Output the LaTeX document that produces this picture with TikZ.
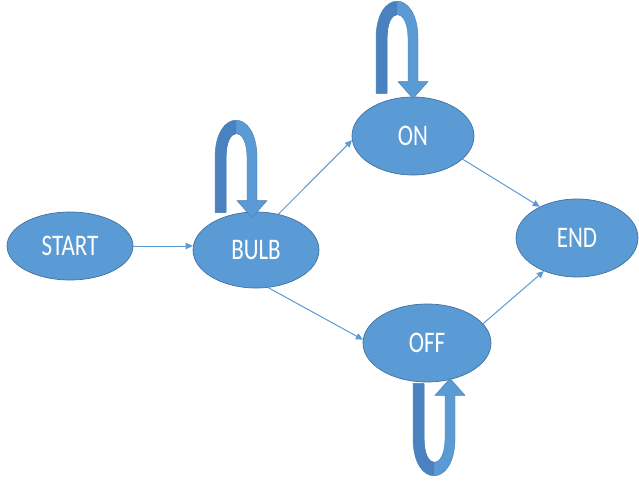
\documentclass[tikz,border=0pt]{standalone}
\usepackage{fontspec}
\setmainfont{Carlito}
\usepackage{graphicx}
\usetikzlibrary{shapes.geometric,arrows.meta,calc}

\definecolor{stfill}{HTML}{5B9BD5}
\definecolor{stline}{HTML}{41719C}
\definecolor{loopdark}{HTML}{4A82C0}
\definecolor{linkc}{HTML}{5B9BD5}

\tikzset{
  state/.style={ellipse, fill=stfill, draw=stline, line width=0.7pt,
    inner sep=0pt, text=white,
    font=\fontsize{23}{23}\selectfont},
  link/.style={draw=linkc, line width=1pt,
    -{Triangle[length=7pt,width=6.5pt]}},
  % thick U-turn arrow, tip at the pic origin, loop rising above it
  selfloop/.pic={
    \fill[stfill, draw=stline!70!stfill, line width=0.4pt]
      (-37,-5) -- (-37,-60) .. controls (-37,-110) and (5,-110) .. (5,-60)
      -- (5,-17) -- (15,-17) -- (0,0) -- (-15,-17) -- (-5,-17) -- (-5,-60)
      .. controls (-5,-92) and (-26,-92) .. (-26,-60) -- (-26,-5) -- cycle;
    \fill[loopdark]
      (-36.6,-5.4) -- (-36.6,-60) .. controls (-36.6,-85) and (-27,-97) .. (-16,-97)
      -- (-16,-84) .. controls (-22,-84) and (-25.6,-75) .. (-25.6,-60)
      -- (-25.6,-5.4) -- cycle;
  }
}

\newcommand{\stlabel}[1]{\scalebox{1}[1.3]{#1}}

\begin{document}
\begin{tikzpicture}[x=1pt,y=-1pt]
  \useasboundingbox[fill=white] (0,0) rectangle (639,481);

  % states
  \node[state, minimum width=126pt, minimum height=68pt] (start) at (70,246) {\stlabel{START}};
  \node[state, minimum width=126pt, minimum height=76pt] (bulb)  at (256,250) {\stlabel{BULB}};
  \node[state, minimum width=122pt, minimum height=78pt] (on)    at (413,136) {\stlabel{ON}};
  \node[state, minimum width=122pt, minimum height=78pt] (end)   at (577,238) {\stlabel{END}};
  \node[state, minimum width=128pt, minimum height=78pt] (off)   at (427,343) {\stlabel{OFF}};

  % transitions
  \draw[link] (start.east) -- (start.east -| bulb.west);
  \draw[link] (bulb.58) -- (on.184);
  \draw[link] (bulb.288) -- (off.177);
  \draw[link] (on.335) -- (end.140);
  \draw[link] (off.19) -- (end.225);

  % self loops
  \pic at ($(bulb.north)+(-4,6)$) {selfloop};
  \pic at ($(on.north)+(0,2)$) {selfloop};
  \pic[yscale=-1] at ($(off.south)+(23,-4)$) {selfloop};
\end{tikzpicture}
\end{document}
